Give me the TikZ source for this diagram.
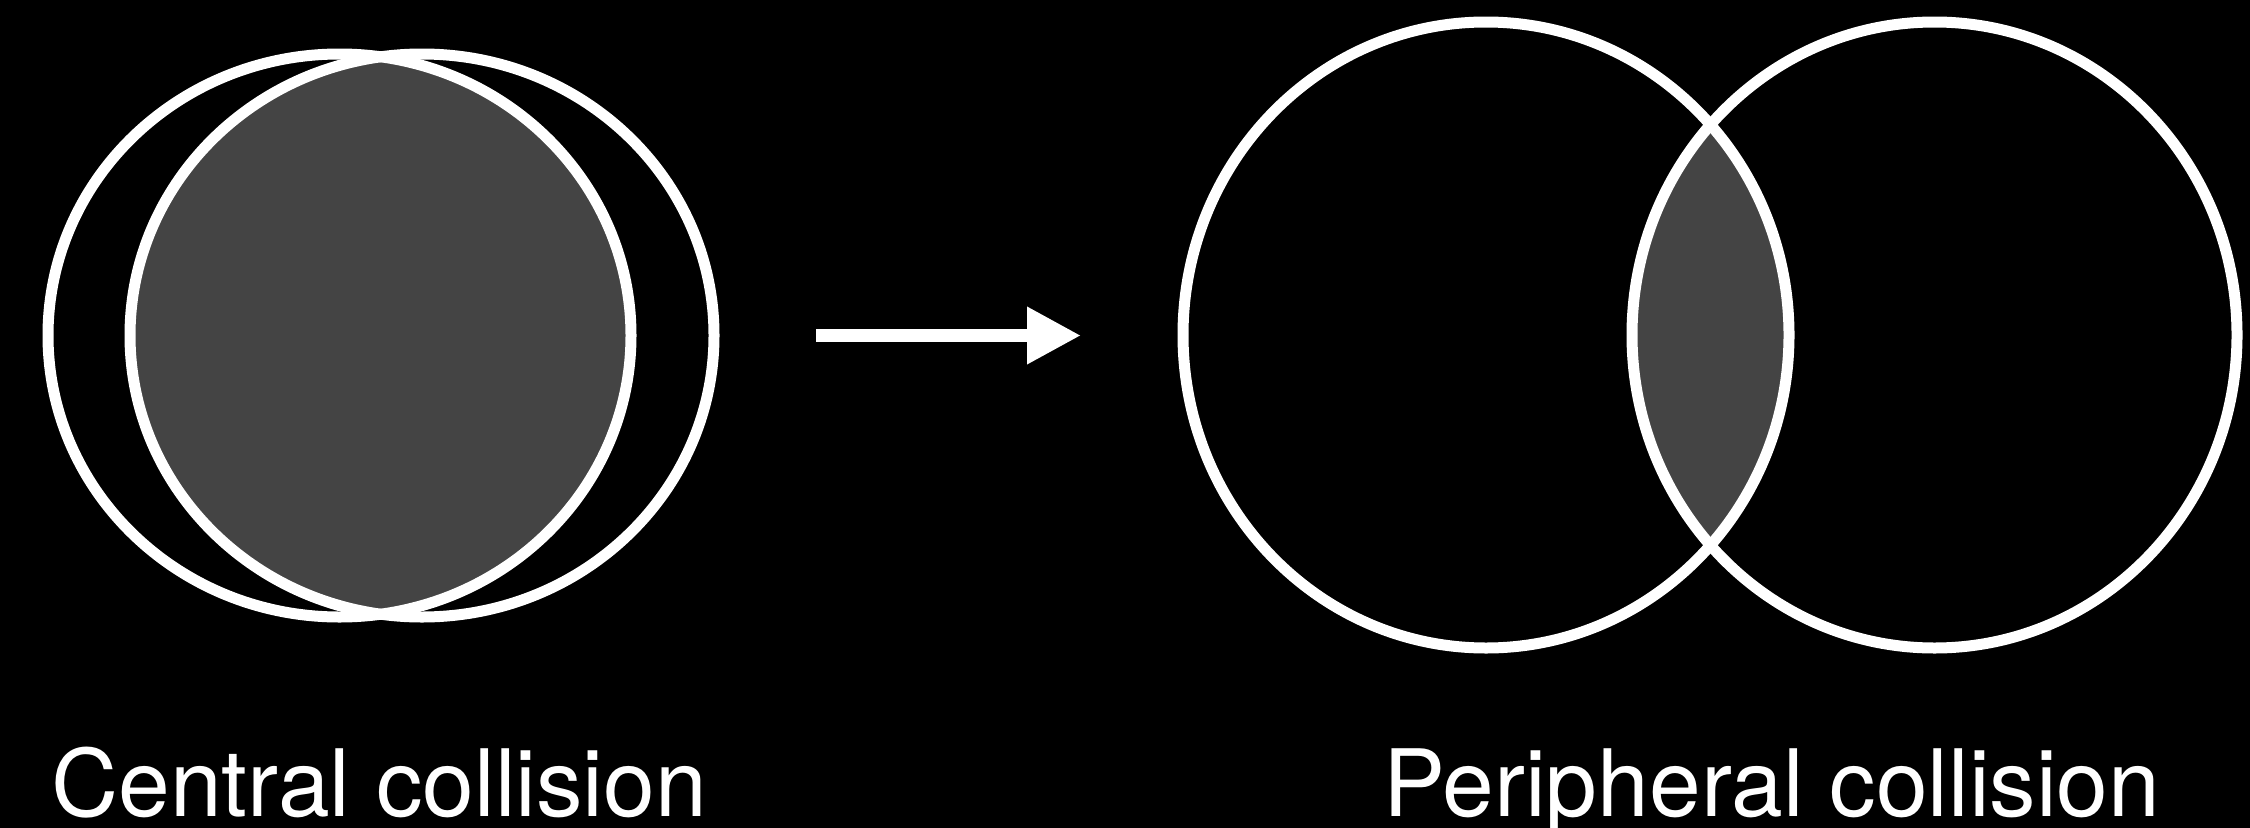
\documentclass[tikz,border=0pt]{standalone}
\usepackage{fontspec}
\setmainfont{TeX Gyre Heros}
\usetikzlibrary{arrows.meta}
\definecolor{lensgray}{HTML}{444444}
\tikzset{
  rim/.style={draw=white, line width=11pt},
  lens/.style={fill=lensgray},
  caption/.style={text=white, inner sep=0pt, anchor=base west, font=\fontsize{93}{100}\selectfont},
  bigarrow/.style={draw=white, line width=13pt, -{Triangle[length=54pt,width=54pt]}}
}
\begin{document}
\begin{tikzpicture}[x=1pt,y=-1pt]
\fill[black] (-10,-10) rectangle (2260,840);
% central collision
\begin{scope}
  \clip (339.5,335.5) ellipse [x radius=291.5, y radius=281.5];
  \fill[lens] (422,335.5) ellipse [x radius=292, y radius=281.5];
\end{scope}
\draw[rim] (339.5,335.5) ellipse [x radius=291.5, y radius=281.5];
\draw[rim] (422,335.5) ellipse [x radius=292, y radius=281.5];
% peripheral collision
\begin{scope}
  \clip (1486,335) ellipse [x radius=303, y radius=313];
  \fill[lens] (1934.5,335) ellipse [x radius=302.5, y radius=313];
\end{scope}
\draw[rim] (1486,335) ellipse [x radius=303, y radius=313];
\draw[rim] (1934.5,335) ellipse [x radius=302.5, y radius=313];
% arrow
\coordinate (arrowstart) at (816,335.5);
\coordinate (arrowend) at (1081,335.5);
\draw[bigarrow] (arrowstart) -- (arrowend);
% captions
\node[caption] (central) at (51,816) {Central collision};
\node[caption] (peripheral) at (1383,816) {Peripheral collision};
\pgfresetboundingbox
\useasboundingbox (0,0) rectangle (2250,827);
\end{tikzpicture}
\end{document}
